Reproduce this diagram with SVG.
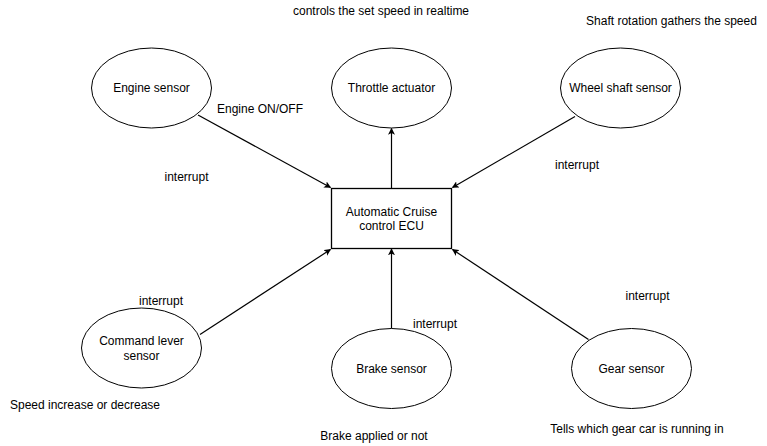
<svg xmlns="http://www.w3.org/2000/svg" width="767" height="446" viewBox="0 0 767 446">
<defs>
<style>
.node{fill:#fff;stroke:#000;stroke-width:1}
.box{fill:#fff;stroke:#000;stroke-width:1.3}
.t{font-family:"Liberation Sans",Arial,sans-serif;font-size:12px;fill:#000;text-anchor:middle;dominant-baseline:central}
.edge{stroke:#000;stroke-width:1.2;fill:none;marker-end:url(#arr)}
</style>
<marker id="arr" viewBox="0 0 10 10" refX="9" refY="5" markerWidth="7" markerHeight="7" markerUnits="userSpaceOnUse" orient="auto">
<path d="M0,0 L10,5 L0,10 L2.5,5 Z" fill="#000"/>
</marker>
</defs>
<rect width="767" height="446" fill="#fff"/>
<g id="connectors">
<line class="edge" x1="198" y1="115" x2="330.5" y2="187.5"/>
<line class="edge" x1="391.5" y1="188.5" x2="391.5" y2="128.5"/>
<line class="edge" x1="575" y1="116.5" x2="452.5" y2="187.5"/>
<line class="edge" x1="200" y1="334.5" x2="330.5" y2="249.5"/>
<line class="edge" x1="391.5" y1="328.5" x2="391.5" y2="249"/>
<line class="edge" x1="588.5" y1="339.5" x2="452.5" y2="249.5"/>
</g>
<g id="ecu">
<rect class="box" x="331.5" y="188.5" width="120" height="60"/>
<text class="t" x="391.5" y="211.5">Automatic Cruise</text>
<text class="t" x="391.5" y="226">control ECU</text>
</g>
<g id="engine-sensor">
<ellipse class="node" cx="151.5" cy="88" rx="60" ry="40"/>
<text class="t" x="151.5" y="88">Engine sensor</text>
</g>
<g id="throttle-actuator">
<ellipse class="node" cx="391.5" cy="88" rx="60" ry="40"/>
<text class="t" x="391.5" y="88">Throttle actuator</text>
</g>
<g id="wheel-shaft-sensor">
<ellipse class="node" cx="620.5" cy="88" rx="60" ry="40"/>
<text class="t" x="620.5" y="88">Wheel shaft sensor</text>
</g>
<g id="command-lever-sensor">
<ellipse class="node" cx="141.5" cy="348" rx="60" ry="40"/>
<text class="t" x="141.5" y="341">Command lever</text>
<text class="t" x="141.5" y="355.5">sensor</text>
</g>
<g id="brake-sensor">
<ellipse class="node" cx="391.5" cy="368.5" rx="60" ry="40"/>
<text class="t" x="391.5" y="368.5">Brake sensor</text>
</g>
<g id="gear-sensor">
<ellipse class="node" cx="631.5" cy="368.5" rx="60" ry="40"/>
<text class="t" x="631.5" y="368.5">Gear sensor</text>
</g>
<g id="labels">
<text class="t" x="381" y="11">controls the set speed in realtime</text>
<text class="t" x="671.5" y="20.5">Shaft rotation gathers the speed</text>
<text class="t" x="260" y="109">Engine ON/OFF</text>
<text class="t" x="186.5" y="176.5">interrupt</text>
<text class="t" x="577" y="164.5">interrupt</text>
<text class="t" x="161" y="301">interrupt</text>
<text class="t" x="85" y="405">Speed increase or decrease</text>
<text class="t" x="435" y="324">interrupt</text>
<text class="t" x="374" y="435.5">Brake applied or not</text>
<text class="t" x="647.5" y="295.5">interrupt</text>
<text class="t" x="637" y="429">Tells which gear car is running in</text>
</g>
</svg>
